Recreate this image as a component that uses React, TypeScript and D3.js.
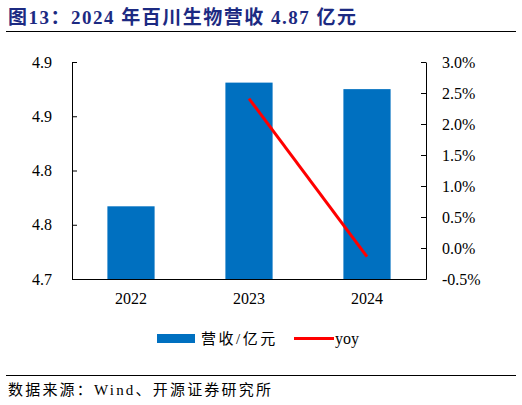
import React, { useEffect, useRef } from "react";
import * as d3 from "d3";

const categories = ["2022", "2023", "2024"];
const revenue = [4.767, 4.881, 4.875];
const yoy = [null, 2.41, -0.14];
const leftTicks = [4.7, 4.75, 4.8, 4.85, 4.9];
const leftTickLabels = ["4.7", "4.8", "4.8", "4.9", "4.9"];
const rightTicks = [-0.5, 0, 0.5, 1.0, 1.5, 2.0, 2.5, 3.0];
const rightTickLabels = ["-0.5%", "0.0%", "0.5%", "1.0%", "1.5%", "2.0%", "2.5%", "3.0%"];
const title = "图13：2024 年百川生物营收 4.87 亿元";
const source = "数据来源：Wind、开源证券研究所";
const legendLabels = ["营收/亿元", "yoy"];

const W = 522;
const H = 405;
const serif = "'Liberation Serif', 'Times New Roman', 'DejaVu Serif', serif";
const cjk = "'Liberation Serif', 'Noto Sans CJK SC', sans-serif";

export default function App() {
  const ref = useRef<SVGSVGElement>(null);

  useEffect(() => {
    document.body.style.margin = "0";
    const svg = d3.select(ref.current);
    svg.selectAll("*").remove();

    const left = 72, right = 426, top = 62, bottom = 279;
    const x = d3.scaleBand<string>().domain(categories).range([left, right]).paddingInner(0.6).paddingOuter(0.3);
    const yL = d3.scaleLinear().domain([4.7, 4.9]).range([bottom, top]);
    const yR = d3.scaleLinear().domain([-0.5, 3.0]).range([bottom, top]);

    // Title
    svg.append("text").attr("x", 8).attr("y", 24).attr("fill", "#1c2a82")
      .attr("font-family", "'Liberation Serif', 'Noto Sans CJK SC', serif").attr("font-weight", "bold")
      .attr("font-size", 19).attr("letter-spacing", 1.5).text(title);
    svg.append("line").attr("x1", 6).attr("x2", 516).attr("y1", 31.5).attr("y2", 31.5)
      .attr("stroke", "#000").attr("stroke-width", 1);

    // Bars
    svg.append("g").selectAll("rect").data(categories).join("rect")
      .attr("x", (d) => x(d)!)
      .attr("width", x.bandwidth())
      .attr("y", (_, i) => yL(revenue[i]))
      .attr("height", (_, i) => bottom - yL(revenue[i]))
      .attr("fill", "#0070c0");

    // Left axis
    const gl = svg.append("g").attr("transform", `translate(${left},0)`);
    gl.call(d3.axisLeft(yL).tickValues(leftTicks).tickSizeInner(-5).tickSizeOuter(0).tickPadding(20)
      .tickFormat((_, i) => leftTickLabels[i]));
    // Right axis
    const gr = svg.append("g").attr("transform", `translate(${right},0)`);
    gr.call(d3.axisRight(yR).tickValues(rightTicks).tickSizeInner(-5).tickSizeOuter(0).tickPadding(16)
      .tickFormat((_, i) => rightTickLabels[i]));
    // Bottom axis
    const gb = svg.append("g").attr("transform", `translate(0,${bottom})`);
    gb.call(d3.axisBottom(x).tickSize(0).tickPadding(14));

    [gl, gr, gb].forEach((g) => {
      g.attr("font-family", serif);
      g.selectAll("path").attr("stroke", "#000").attr("stroke-width", 1);
      g.selectAll("line").attr("stroke", "#000").attr("stroke-width", 1);
      g.selectAll("text").attr("font-family", serif).attr("font-size", 16).attr("fill", "#000");
    });

    // yoy line
    const pts = categories.map((c, i) => ({ c, v: yoy[i] })).filter((p) => p.v !== null) as { c: string; v: number }[];
    const line = d3.line<{ c: string; v: number }>()
      .x((p) => x(p.c)! + x.bandwidth() / 2)
      .y((p) => yR(p.v));
    svg.append("path").datum(pts).attr("d", line).attr("fill", "none")
      .attr("stroke", "#ff0000").attr("stroke-width", 3);

    // Legend
    const lg = svg.append("g");
    lg.append("rect").attr("x", 157).attr("y", 334).attr("width", 38).attr("height", 9).attr("fill", "#0070c0");
    lg.append("text").attr("x", 201).attr("y", 344).attr("font-family", cjk).attr("font-size", 15)
      .attr("letter-spacing", 2.5).text(legendLabels[0]);
    lg.append("line").attr("x1", 294).attr("x2", 334).attr("y1", 338.5).attr("y2", 338.5)
      .attr("stroke", "#ff0000").attr("stroke-width", 3);
    lg.append("text").attr("x", 335).attr("y", 344).attr("font-family", serif).attr("font-size", 16).text(legendLabels[1]);

    // Footer
    svg.append("line").attr("x1", 6).attr("x2", 516).attr("y1", 375.5).attr("y2", 375.5)
      .attr("stroke", "#000").attr("stroke-width", 1);
    svg.append("text").attr("x", 8).attr("y", 395).attr("font-family", cjk).attr("font-size", 15)
      .attr("letter-spacing", 2.2).text(source);
  }, []);

  return <svg ref={ref} width={W} height={H} style={{ display: "block", background: "#fff" }} />;
}
